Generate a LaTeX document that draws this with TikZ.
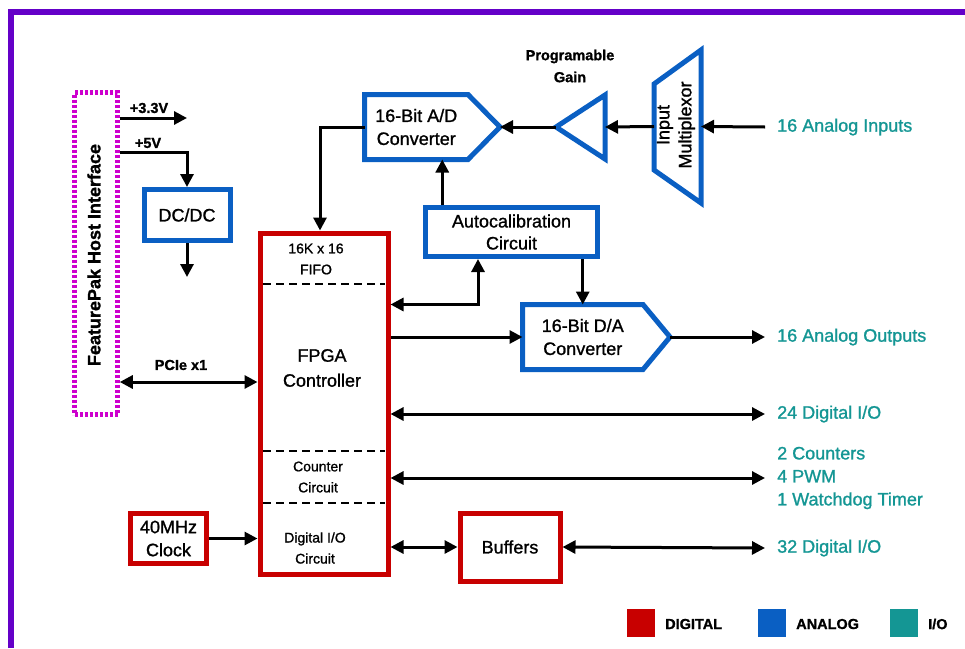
\documentclass[tikz,border=0pt]{standalone}
\usepackage{fontspec}
\setmainfont{Liberation Sans}[FakeBold=1.2]
\usepackage{xcolor}
\usetikzlibrary{arrows.meta, positioning, calc}
\definecolor{digred}{RGB}{200, 0, 0}
\definecolor{anablue}{RGB}{10, 95, 195}
\definecolor{ioteal}{RGB}{20, 150, 148}
\definecolor{frameviolet}{RGB}{100, 0, 200}
\definecolor{hostpink}{RGB}{205, 0, 205}
\newcommand{\bigtxt}{\fontsize{18}{23}\selectfont}
\newcommand{\smalltxt}{\fontsize{14}{21}\selectfont}
\newcommand{\smallbold}{\fontsize{14.5}{22}\selectfont\bfseries}

\tikzset{
    redbox/.style={draw=digred, line width=5pt, inner sep=0pt, align=center, font=\bigtxt},
    bluebox/.style={draw=anablue, line width=5pt, inner sep=0pt, align=center, font=\bigtxt},
    ghost/.style={inner sep=0pt, outer sep=0pt, align=center, font=\bigtxt},
    blueline/.style={draw=anablue, line width=5pt},
    hostbox/.style={draw=hostpink, line width=4.5pt, dash pattern=on 3pt off 2pt},
    partline/.style={line width=2.5pt, dash pattern=on 8pt off 5pt},
    sig/.style={line width=3pt, -{Triangle[length=13pt,width=13pt]}},
    bisig/.style={line width=3pt, {Triangle[length=13pt,width=13pt]}-{Triangle[length=13pt,width=13pt]}},
    ioport/.style={text=ioteal, anchor=west, inner sep=0pt, align=left, font=\bigtxt},
    note/.style={inner sep=0pt, align=center, font=\smalltxt},
}

\begin{document}
\begin{tikzpicture}[x=1pt, y=-1pt]
    \useasboundingbox (0,0) rectangle (965,648);
    % FRAME
    \draw[frameviolet, line width=6pt] (11,648) -- (11,11.5) -- (965,11.5);

    % LEFT: host interface and power
    \node[hostbox, minimum width=43, minimum height=322] (host) at (96,253.5) {};
    \node[rotate=90, font=\fontsize{18}{22}\selectfont\bfseries] (hostlbl) at (94,255) {FeaturePak Host Interface};
    \node[bluebox, minimum width=86, minimum height=51] (dcdc) at (187,215) {DC/DC};
    \node[note, font=\smallbold] (v33) at (149,108) {+3.3V};
    \node[note, font=\smallbold] (v5lbl) at (148,143) {+5V};
    \node[note, font=\smallbold] (pcielbl) at (181,365) {PCIe x1};
    \coordinate (v33end) at (187,118);
    \coordinate (v5) at (150,152);
    \coordinate (dcout) at (187,277);
    \coordinate (pcie) at (180,382);

    % FPGA with its sections
    \node[redbox, minimum width=128, minimum height=341] (fpga) at (324,403.5) {};
    \foreach \y in {284, 451, 503} {
        \draw[partline] (263,\y) -- (385,\y);
    }
    \node[note] (fifo) at (316,259) {16K x 16\\FIFO};
    \node[ghost, font=\fontsize{18}{25}\selectfont] (ctrl) at (322,368) {FPGA\\Controller};
    \node[note] (cntc) at (318,477) {Counter\\Circuit};
    \node[note] (dioc) at (315,548) {Digital I/O\\Circuit};
    \node[redbox, minimum width=76, minimum height=50] (clk) at (168.5,538.5) {40MHz\\Clock};
    \node[redbox, minimum width=100, minimum height=68] (buf) at (510,547) {Buffers};

    % ANALOG chain
    \node[ghost, minimum width=103.5, minimum height=65] (ad) at (416.25,127) {16-Bit A/D\\Converter};
    \coordinate (adtip) at ([xshift=32pt]ad.east);
    \draw[blueline] (ad.north west) -- (ad.north east) -- (adtip) -- (ad.south east) -- (ad.south west) -- cycle;
    \node[ghost, minimum width=49, minimum height=64] (gain) at (580.5,127) {};
    \draw[blueline] (gain.west) -- (gain.north east) -- (gain.south east) -- cycle;
    \node[note, font=\smallbold] (gainlbl) at (570,66) {Programable\\Gain};
    \node[ghost, minimum width=47, minimum height=153] (mux) at (677.5,126.5) {};
    \draw[blueline] ([yshift=-34pt]mux.north west) -- (mux.north east) -- (mux.south east) -- ([yshift=33pt]mux.south west) -- cycle;
    \node[rotate=90, ghost, font=\fontsize{18}{22}\selectfont] (muxtxt) at (676,125) {Input\\Multiplexor};
    \node[bluebox, minimum width=172, minimum height=49, font=\fontsize{18}{22}\selectfont] (cal) at (511.5,232) {Autocalibration\\Circuit};
    \node[ghost, minimum width=120.5, minimum height=65] (da) at (582.75,337) {16-Bit D/A\\Converter};
    \coordinate (datip) at ([xshift=27pt]da.east);
    \draw[blueline] (da.north west) -- (da.north east) -- (datip) -- (da.south east) -- (da.south west) -- cycle;

    % RIGHT: I/O ports
    \node[ioport] (ain) at (777,127) {16 Analog Inputs};
    \node[ioport] (aout) at (777,337) {16 Analog Outputs};
    \node[ioport] (dio24) at (777,414) {24 Digital I/O};
    \node[ioport] (cnt) at (777,478) {2 Counters\\4 PWM\\1 Watchdog Timer};
    \node[ioport] (dio32) at (777,548) {32 Digital I/O};

    % Connections
    \draw[sig] (host.east |- v33end) -- (v33end);
    \draw[sig] (host.east |- v5) -| (dcdc.north);
    \draw[sig] (dcdc.south) -- (dcout);
    \draw[bisig] (host.east |- pcie) -- (fpga.west |- pcie);
    \draw[sig] ([xshift=-12pt]ain.west) -- (mux.east);
    \draw[sig] (mux.west) -- (gain.east);
    \draw[sig] (gain.west) -- (adtip);
    \draw[sig] (ad.west) -| ([xshift=-4pt]fpga.north);
    \draw[sig] ([xshift=26pt]ad.south |- cal.north) -- ([xshift=26pt]ad.south);
    \draw[sig] (da.north |- cal.south) -- (da.north);
    \draw[bisig] (fpga.east |- da.north) -| ([xshift=-33.5pt]cal.south);
    \draw[sig] (fpga.east |- da.west) -- (da.west);
    \draw[sig] (datip) -- ([xshift=-12pt]aout.west);
    \draw[bisig] (fpga.east |- dio24.west) -- ([xshift=-12pt]dio24.west);
    \draw[bisig] (fpga.east |- cnt.west) -- ([xshift=-12pt]cnt.west);
    \draw[bisig] (fpga.east |- buf.west) -- (buf.west);
    \draw[bisig] (buf.east) -- ([xshift=-12pt]dio32.west);
    \draw[sig] (clk.east) -- (clk.east -| fpga.west);

    % LEGEND
    \foreach \c/\t/\x in {digred/DIGITAL/627, anablue/ANALOG/758, ioteal/{I/O}/890} {
        \fill[\c] (\x,609) rectangle +(28,28);
        \node[anchor=west, inner sep=0pt, font=\fontsize{14.5}{17}\selectfont\bfseries] (key\x) at (\x+38,624) {\t};
    }
\end{tikzpicture}
\end{document}
